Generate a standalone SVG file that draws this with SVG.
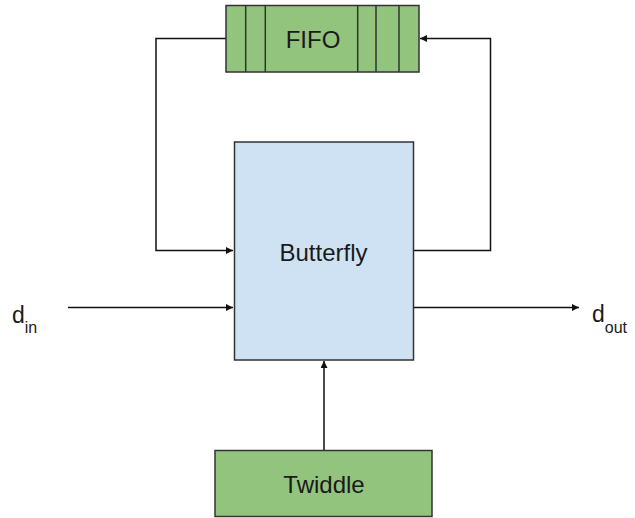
<svg xmlns="http://www.w3.org/2000/svg" width="635" height="518" viewBox="0 0 635 518">
<style>
.box{stroke:#333;stroke-width:1.5}
.green{fill:#93c47d}
.blue{fill:#cfe2f3}
.lbl{font-family:"Liberation Sans",Arial,sans-serif;font-size:24px;fill:#1a1a1a;text-anchor:middle}
.d{font-family:"Liberation Sans",Arial,sans-serif;font-size:23px;fill:#1a1a1a}
.sub{font-size:16px}
.wire{fill:none;stroke:#111;stroke-width:1.5}
</style>
<defs>
<marker id="arr" viewBox="0 0 10 10" refX="10" refY="5" markerWidth="8" markerHeight="7" markerUnits="userSpaceOnUse" orient="auto">
<path d="M0,0 L10,5 L0,10 z" fill="#111"/>
</marker>
</defs>
<rect width="635" height="518" fill="#fff"/>
<g id="connectors">
<path class="wire" d="M226,38.5 H156 V250.5 H233" marker-end="url(#arr)"/>
<path class="wire" d="M413.5,250.5 H490.5 V38.5 H420" marker-end="url(#arr)"/>
<path class="wire" d="M68,307.5 H233" marker-end="url(#arr)"/>
<path class="wire" d="M413.5,307.5 H579" marker-end="url(#arr)"/>
<path class="wire" d="M324,450 V361" marker-end="url(#arr)"/>
</g>
<g id="fifo">
<rect class="box green" x="226" y="5.5" width="193" height="66.5"/>
<path class="box" d="M245.7,5.5 V72 M265.3,5.5 V72 M357.7,5.5 V72 M376,5.5 V72 M399,5.5 V72" fill="none"/>
<text class="lbl" x="313" y="48">FIFO</text>
</g>
<g id="butterfly">
<rect class="box blue" x="234.5" y="142" width="179" height="218"/>
<text class="lbl" x="323.5" y="261">Butterfly</text>
</g>
<g id="twiddle">
<rect class="box green" x="215" y="450.5" width="217" height="66"/>
<text class="lbl" x="324" y="493">Twiddle</text>
</g>
<g id="din">
<text class="d" x="12" y="323">d<tspan class="sub" dy="10">in</tspan></text>
</g>
<g id="dout">
<text class="d" x="592" y="322">d<tspan class="sub" dy="11">out</tspan></text>
</g>
</svg>
